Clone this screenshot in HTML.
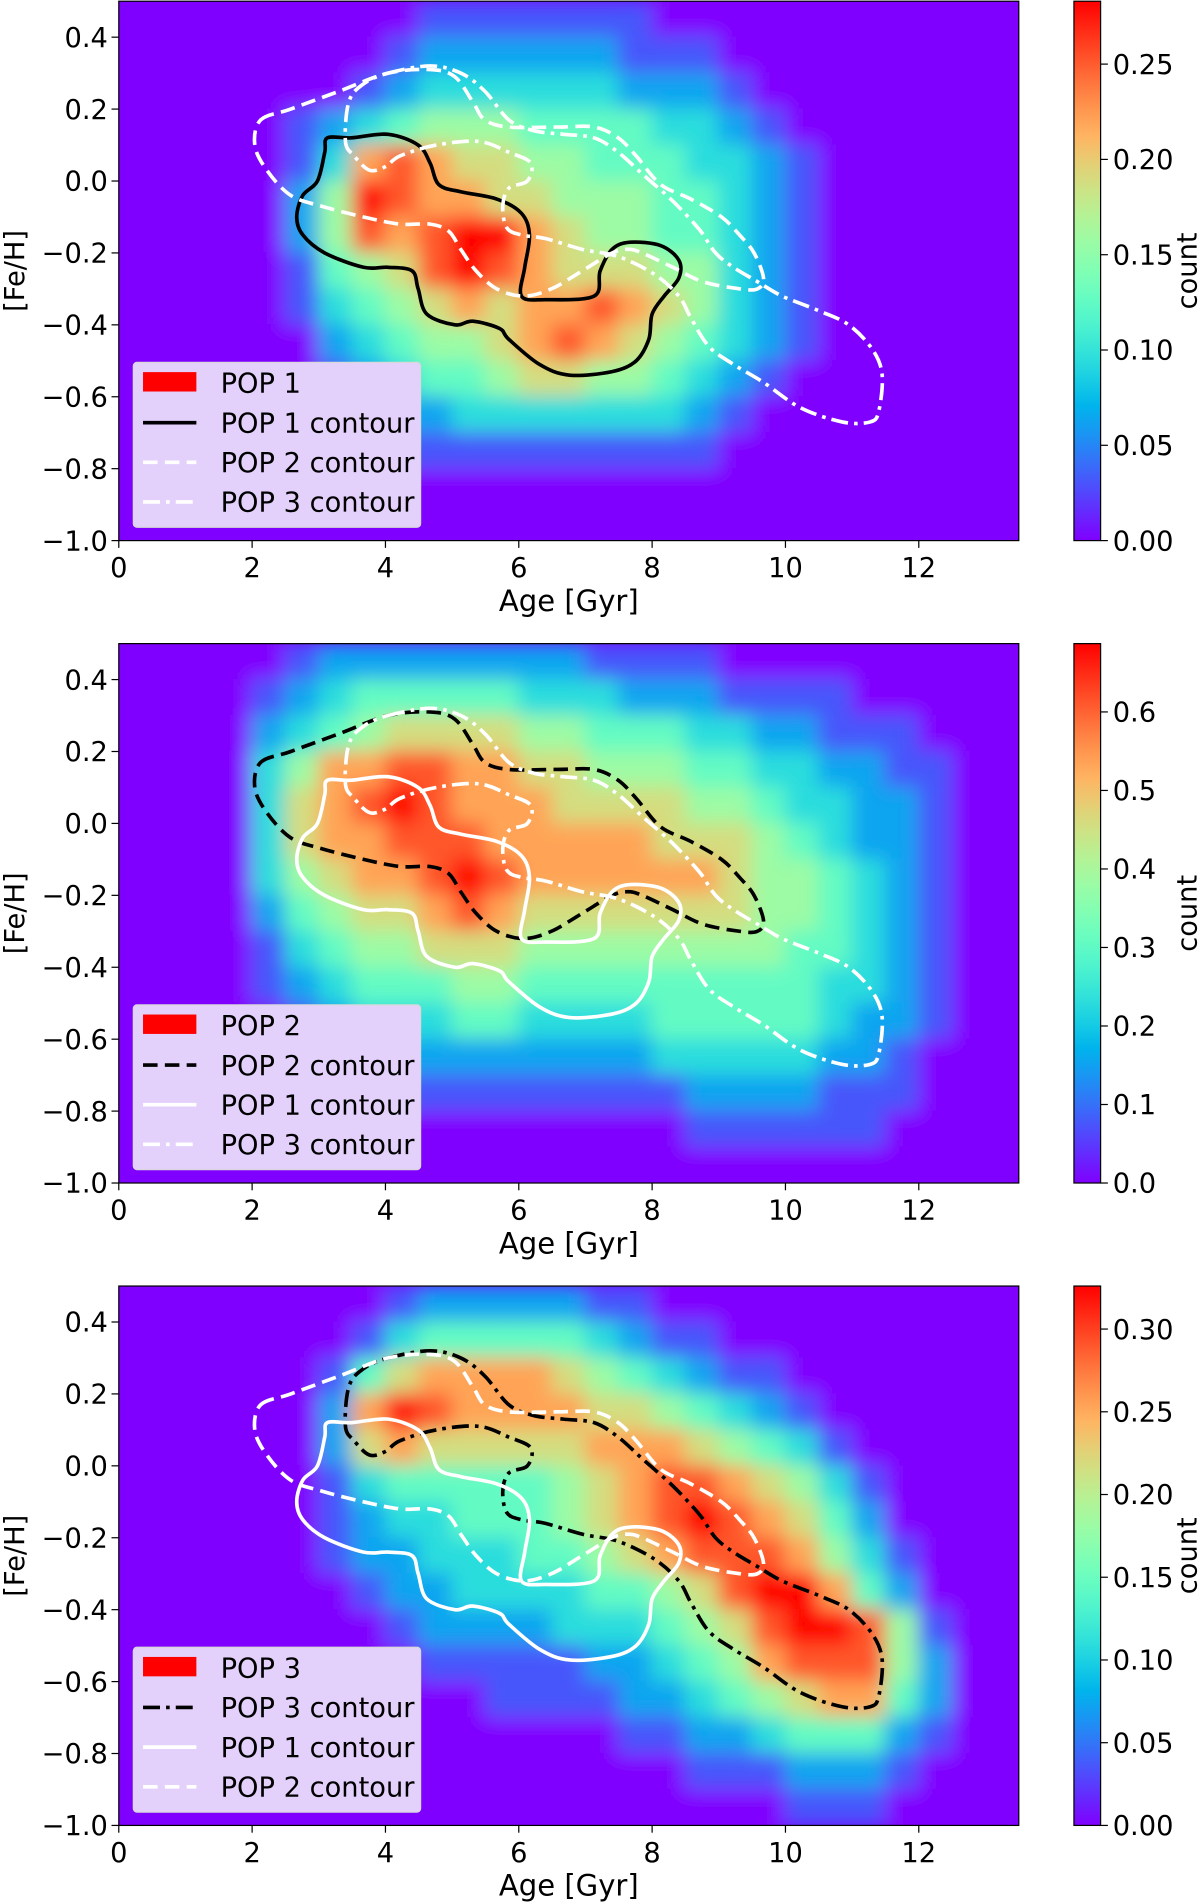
<!DOCTYPE html>
<html><head><meta charset="utf-8"><style>
html,body{margin:0;padding:0;background:#fff;}
svg{display:block;font-family:"DejaVu Sans","Liberation Sans",sans-serif;}
</style></head><body>
<svg id="fig" xmlns="http://www.w3.org/2000/svg" width="1200" height="1903" viewBox="0 0 990 1570" preserveAspectRatio="none"></svg>
<script>
// ---- data ----
const ageMin = 0, ageMax = 13.5, fehMin = -1.0, fehMax = 0.5;
const xTicks = [0, 2, 4, 6, 8, 10, 12];
const yTicks = [0.4, 0.2, 0.0, -0.2, -0.4, -0.6, -0.8, -1.0];
const yTickLabels = ["0.4", "0.2", "0.0", "\u22120.2", "\u22120.4", "\u22120.6", "\u22120.8", "\u22121.0"];
// heat grids: rows feh 0.5->-1.0 step 0.1, cols age 0->13.5 step 0.5, digit = fraction of max *9
const heatPop1 = [
"000000000111111100000000000",
"000000001222222111000000000",
"000000012333333222100000000",
"000001234555444433210000000",
"000001378766554443321000000",
"000002598776655544321000000",
"000002587899765544321000000",
"000001456898766655321000000",
"000001345676778765321000000",
"000000234556787654321000000",
"000000123445665543210000000",
"000000012233333332100000000",
"000000001111111111000000000",
"000000000000000000000000000",
"000000000000000000000000000"];
const heatPop2 = [
"000001222222221111000000000",
"000012344444333222111100000",
"000023456666554443322111000",
"000035778877665554433221100",
"000036789877766665543322100",
"000036778887777766654322100",
"000035677898777777655432100",
"000024566787666666655432100",
"000013455666555555554432100",
"000012344455444444444332100",
"000001233344333344444322100",
"000001122222222233333221000",
"000000111111111112222111000",
"000000000000000001111110000",
"000000000000000000000000000"];
const heatPop3 = [
"000000001222221100000000000",
"000000013444443211000000000",
"000000146777765432110000000",
"000000279877776654321000000",
"000000267666667776543100000",
"000000134444456788765310000",
"000000123344456789876420000",
"000000122333445678887531000",
"000000012233334456899742000",
"000000001222233345689985100",
"000000000111112234578885200",
"000000000001111223456774200",
"000000000000000112234442100",
"000000000000000001112221000",
"000000000000000000001110000"];
const heatMax = [0.283, 0.687, 0.326];
const cbTicks1 = [0, 0.05, 0.10, 0.15, 0.20, 0.25];
const cbTicks2 = [0, 0.1, 0.2, 0.3, 0.4, 0.5, 0.6];
const cbTicks3 = [0, 0.05, 0.10, 0.15, 0.20, 0.25, 0.30];
// contours [age, feh]
const contourPop1 = [[3.09,0.08],[3.13,0.12],[3.49,0.12],[4.04,0.13],[4.49,0.10],[4.67,0.05],[4.80,-0.01],[5.13,-0.03],[5.67,-0.05],[6.04,-0.09],[6.16,-0.15],[6.09,-0.24],[6.04,-0.32],[6.40,-0.33],[7.13,-0.32],[7.22,-0.25],[7.40,-0.19],[7.67,-0.17],[8.13,-0.18],[8.40,-0.22],[8.40,-0.27],[8.18,-0.32],[8.00,-0.37],[7.95,-0.44],[7.76,-0.50],[7.40,-0.53],[6.76,-0.54],[6.31,-0.51],[5.85,-0.44],[5.71,-0.41],[5.31,-0.39],[5.04,-0.40],[4.62,-0.37],[4.49,-0.30],[4.40,-0.25],[4.04,-0.24],[3.67,-0.24],[3.09,-0.20],[2.76,-0.15],[2.67,-0.10],[2.76,-0.04],[2.98,0.00]];
const contourPop2 = [[2.13,0.17],[2.58,0.20],[3.31,0.25],[4.04,0.30],[4.67,0.31],[5.04,0.29],[5.31,0.22],[5.49,0.17],[5.85,0.15],[6.58,0.15],[7.13,0.15],[7.49,0.12],[7.76,0.07],[8.13,-0.01],[8.58,-0.05],[9.04,-0.10],[9.31,-0.15],[9.53,-0.20],[9.67,-0.27],[9.58,-0.30],[9.31,-0.30],[8.76,-0.28],[8.31,-0.24],[7.85,-0.20],[7.64,-0.19],[7.40,-0.20],[6.95,-0.25],[6.49,-0.30],[6.07,-0.32],[5.67,-0.30],[5.36,-0.25],[5.13,-0.19],[4.95,-0.14],[4.67,-0.12],[4.22,-0.12],[3.67,-0.10],[3.04,-0.07],[2.58,-0.04],[2.22,0.03],[2.04,0.10]];
const contourPop3 = [[4.04,0.30],[4.67,0.32],[5.13,0.30],[5.49,0.25],[5.85,0.17],[6.22,0.14],[6.67,0.13],[7.13,0.12],[7.49,0.08],[7.85,0.02],[8.22,-0.04],[8.49,-0.09],[8.73,-0.14],[8.95,-0.20],[9.22,-0.24],[9.58,-0.28],[9.95,-0.32],[10.49,-0.36],[10.95,-0.40],[11.31,-0.47],[11.45,-0.54],[11.40,-0.64],[11.27,-0.67],[10.85,-0.67],[10.22,-0.63],[9.67,-0.56],[9.22,-0.51],[8.85,-0.46],[8.58,-0.38],[8.40,-0.32],[8.04,-0.26],[7.49,-0.21],[6.95,-0.19],[6.40,-0.16],[6.04,-0.15],[5.82,-0.13],[5.76,-0.07],[5.85,-0.02],[6.13,0.00],[6.18,0.05],[5.85,0.08],[5.40,0.11],[4.76,0.10],[4.22,0.07],[4.00,0.04],[3.76,0.03],[3.53,0.07],[3.40,0.11],[3.45,0.22],[3.67,0.27]];

// ---- drawing ----
const NS = "http://www.w3.org/2000/svg";
const svg = document.getElementById('fig');
const X0 = 98, X1 = 840.5, PH = 445, CBX = 886, CBW = 22;
const FS = 22.5;
const panelTops = [1, 531, 1061];
function el(tag, attrs, parent){ const e = document.createElementNS(NS, tag); for (const k in attrs) e.setAttribute(k, attrs[k]); (parent||svg).appendChild(e); return e; }
function rainbow(t){ t = Math.max(0, Math.min(1, t));
  const r = Math.min(1, Math.abs(2*t - 0.5)), g = Math.sin(Math.PI*t), b = Math.cos(Math.PI*t/2);
  return `rgb(${Math.round(r*255)},${Math.round(g*255)},${Math.round(b*255)})`; }
const xs = a => X0 + (a - ageMin) / (ageMax - ageMin) * (X1 - X0);
function ysFor(top){ return f => top + (fehMax - f) / (fehMax - fehMin) * PH; }
function smoothPath(pts){
  const n = pts.length; let d = `M${pts[0][0]},${pts[0][1]}`;
  for (let i = 0; i < n; i++){
    const p0 = pts[(i-1+n)%n], p1 = pts[i], p2 = pts[(i+1)%n], p3 = pts[(i+2)%n];
    const c1 = [p1[0] + (p2[0]-p0[0])/6, p1[1] + (p2[1]-p0[1])/6];
    const c2 = [p2[0] - (p3[0]-p1[0])/6, p2[1] - (p3[1]-p1[1])/6];
    d += ` C${c1[0].toFixed(1)},${c1[1].toFixed(1)} ${c2[0].toFixed(1)},${c2[1].toFixed(1)} ${p2[0].toFixed(1)},${p2[1].toFixed(1)}`;
  }
  return d + 'Z';
}
const styles = { solid: null, dashed: "12,6", dashdot: "14,5,3,5" };
const contours = { pop1: contourPop1, pop2: contourPop2, pop3: contourPop3 };
const panels = [
  { heat: heatPop1, pop: 1, cb: cbTicks1, dec: 2,
    lines: [["pop1","#000","solid","POP 1 contour"],["pop2","#fff","dashed","POP 2 contour"],["pop3","#fff","dashdot","POP 3 contour"]] },
  { heat: heatPop2, pop: 2, cb: cbTicks2, dec: 1,
    lines: [["pop2","#000","dashed","POP 2 contour"],["pop1","#fff","solid","POP 1 contour"],["pop3","#fff","dashdot","POP 3 contour"]] },
  { heat: heatPop3, pop: 3, cb: cbTicks3, dec: 2,
    lines: [["pop3","#000","dashdot","POP 3 contour"],["pop1","#fff","solid","POP 1 contour"],["pop2","#fff","dashed","POP 2 contour"]] }
];
const defs = el('defs', {});
const grad = el('linearGradient', {id:'cbgrad', x1:'0', y1:'1', x2:'0', y2:'0'}, defs);
for (let i = 0; i <= 20; i++) el('stop', {offset: (i/20).toFixed(2), 'stop-color': rainbow(i/20)}, grad);
const blur = el('filter', {id:'blur', x:'-5%', y:'-5%', width:'110%', height:'110%'}, defs);
el('feGaussianBlur', {stdDeviation:'8'}, blur);

panels.forEach((p, pi) => {
  const top = panelTops[pi], ys = ysFor(top);
  const g = el('g', {});
  
  
  const cp = el('clipPath', {id:'clip'+pi}, defs);
  el('rect', {x:X0, y:top, width:X1-X0, height:PH}, cp);
  const bg = el('rect', {x:X0, y:top, width:X1-X0, height:PH, fill:rainbow(0)}, g);
  
  
  const hc = el('g', {'clip-path':`url(#clip${pi})`}, g);
  const hg = el('g', {filter:'url(#blur)'}, hc);
  
  
  const rows = p.heat.length;
  for (let r = 0; r < rows; r++){
    const row = p.heat[r];
    for (let c = 0; c < 27; c++){
      const v = +(row[c] || 0) / 9;
      const a0 = ageMin + c*0.5, f0 = fehMax - r*0.1;
      const cell = el('rect', {x: xs(a0)-0.5, y: ys(f0)-0.5, width: xs(a0+0.5)-xs(a0)+1, height: ys(f0-0.1)-ys(f0)+1, fill: rainbow(v)}, hg);
      
      
    }
  }
  p.lines.forEach(ln => {
    const pts = contours[ln[0]].map(q => [xs(q[0]), ys(q[1])]);
    const path = el('path', {d: smoothPath(pts), fill:'none', stroke: ln[1], 'stroke-width': 3, 'stroke-linejoin':'round'}, hc);
    if (styles[ln[2]]) path.setAttribute('stroke-dasharray', styles[ln[2]]);
    
    
  });
  el('rect', {x:X0, y:top, width:X1-X0, height:PH, fill:'none', stroke:'#000', 'stroke-width':1}, g);
  xTicks.forEach(t => {
    el('line', {x1:xs(t), x2:xs(t), y1:top+PH, y2:top+PH+6, stroke:'#000', 'stroke-width':1}, g);
    const tx = el('text', {x:xs(t), y:top+PH+30, 'font-size':FS, 'text-anchor':'middle'}, g);
    tx.textContent = String(t);
    
    
  });
  yTicks.forEach((t, i) => {
    el('line', {x1:X0-6, x2:X0, y1:ys(t), y2:ys(t), stroke:'#000', 'stroke-width':1}, g);
    const tx = el('text', {x:X0-9, y:ys(t)+8, 'font-size':FS, 'text-anchor':'end'}, g);
    tx.textContent = yTickLabels[i];
    
    
  });
  const xl = el('text', {x:(X0+X1)/2, y:top+PH+58, 'font-size':24, 'text-anchor':'middle'}, g);
  xl.textContent = 'Age [Gyr]';
  
  
  const yl = el('text', {x:0, y:0, 'font-size':FS, 'text-anchor':'middle', transform:`translate(20,${top+PH/2}) rotate(-90)`}, g);
  yl.textContent = '[Fe/H]';
  
  
  const lg = el('g', {}, g);
  
  
  const ly = top + 298;
  el('rect', {x:110, y:ly, width:237, height:136, rx:3, fill:'#e3d0fb', stroke:'#d8d8d8', 'stroke-width':1}, lg);
  const sw = el('rect', {x:118, y:ly+8, width:44, height:16, fill:'#ff0000'}, lg);
  
  
  const entries = [['POP ' + p.pop, null]].concat(p.lines.map(l => [l[3], l]));
  entries.forEach((e, i) => {
    const cy = ly + 17 + i*32.7;
    if (e[1]){
      const ll = el('line', {x1:118, x2:162, y1:cy, y2:cy, stroke:e[1][1], 'stroke-width':3}, lg);
      if (styles[e[1][2]]) ll.setAttribute('stroke-dasharray', styles[e[1][2]]);
    }
    const t = el('text', {x:182, y:cy+8, 'font-size':FS}, lg);
    t.textContent = e[0];
    
    
  });
  const cb = el('rect', {x:CBX, y:top, width:CBW, height:PH, fill:'url(#cbgrad)', stroke:'#000', 'stroke-width':1}, g);
  
  
  const mx = heatMax[pi];
  p.cb.forEach(t => {
    const y = top + PH - t/mx*PH;
    el('line', {x1:CBX+CBW, x2:CBX+CBW+6, y1:y, y2:y, stroke:'#000', 'stroke-width':1}, g);
    const tx = el('text', {x:CBX+CBW+10, y:y+8, 'font-size':FS}, g);
    tx.textContent = t.toFixed(p.dec);
    
    
  });
  const cl = el('text', {x:0, y:0, 'font-size':FS, 'text-anchor':'middle', transform:`translate(987,${top+PH/2}) rotate(-90)`}, g);
  cl.textContent = 'count';
  
  
});
</script>
</body></html>
